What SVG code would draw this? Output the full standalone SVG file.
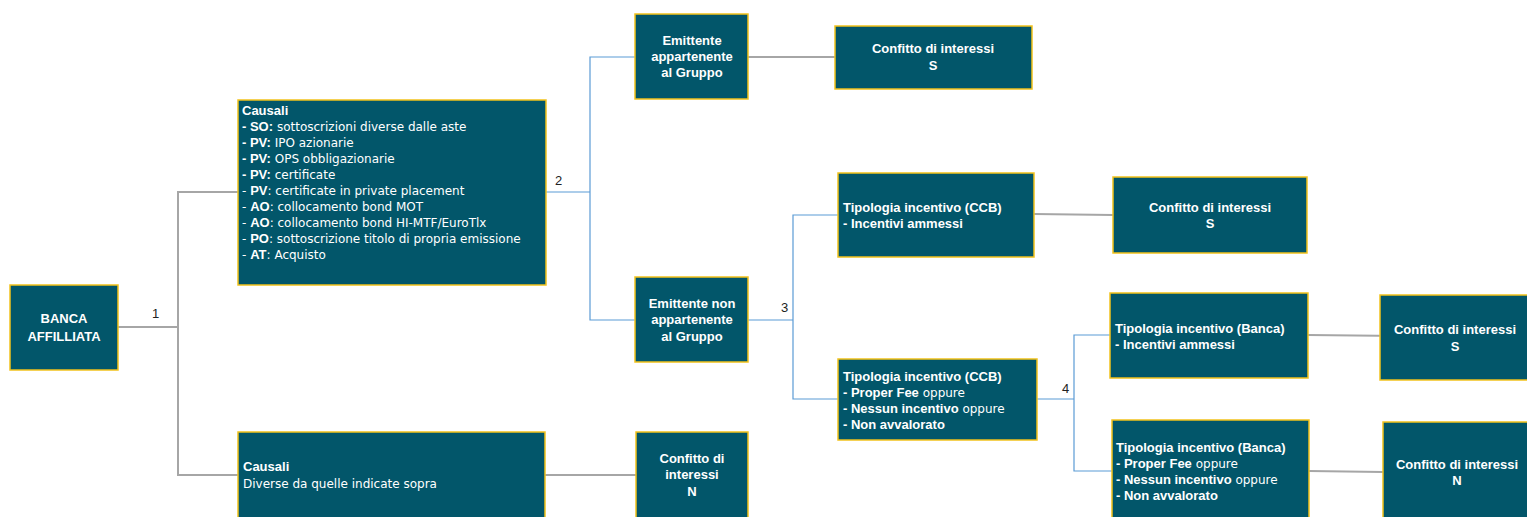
<svg xmlns="http://www.w3.org/2000/svg" width="1527" height="517" viewBox="0 0 1527 517">
<style>
.box{fill:#02566A;stroke:#F2C21B;stroke-width:1.5}
.t{font-family:"DejaVu Sans","Liberation Sans",sans-serif;font-size:12px;fill:#FFFFFF}
.c{text-anchor:middle}
.b,.c{font-family:"Liberation Sans",Arial,sans-serif;font-size:13px;font-weight:bold}
.gray{fill:none;stroke:#A6A6A6;stroke-width:2}
.blue{fill:none;stroke:#5B9BD5;stroke-width:1.2}
.lbl{font-family:"Liberation Sans",Arial,sans-serif;font-size:13px;fill:#222222}
</style>
<rect width="1527" height="517" fill="#FFFFFF"/>
<g id="connectors">
<polyline class="gray" points="118,327 178,327"/>
<polyline class="gray" points="238,192 178,192 178,475 238,475"/>
<polyline class="gray" points="545,475 636,475"/>
<polyline class="blue" points="546,192 590,192"/>
<polyline class="blue" points="635,57 590,57 590,320 635,320"/>
<polyline class="gray" points="748,57 835,57"/>
<polyline class="blue" points="748,320 793,320"/>
<polyline class="blue" points="838,215 793,215 793,399 838,399"/>
<polyline class="gray" points="1034,214 1113,215"/>
<polyline class="blue" points="1037,399 1074,399"/>
<polyline class="blue" points="1110,335 1074,335 1074,471 1112,471"/>
<polyline class="gray" points="1308,335 1402,336"/>
<polyline class="gray" points="1309,471 1383,472"/>
<text class="lbl" x="152" y="318">1</text>
<text class="lbl" x="555" y="185">2</text>
<text class="lbl" x="781" y="312">3</text>
<text class="lbl" x="1062" y="393">4</text>
</g>
<g id="banca">
<rect class="box" x="10" y="285" width="108" height="85"/>
<text class="t c" x="64" y="323">BANCA</text>
<text class="t c" x="64" y="341">AFFILLIATA</text>
</g>
<g id="causali1">
<rect class="box" x="238" y="100" width="308" height="185"/>
<text class="t" x="242" y="115"><tspan class="b">Causali</tspan></text>
<text class="t" x="242" y="131"><tspan class="b">- SO:</tspan> sottoscrizioni diverse dalle aste</text>
<text class="t" x="242" y="147"><tspan class="b">- PV:</tspan> IPO azionarie</text>
<text class="t" x="242" y="163"><tspan class="b">- PV:</tspan> OPS obbligazionarie</text>
<text class="t" x="242" y="179"><tspan class="b">- PV:</tspan> certificate</text>
<text class="t" x="242" y="195">- <tspan class="b">PV</tspan>: certificate in private placement</text>
<text class="t" x="242" y="211">- <tspan class="b">AO</tspan>: collocamento bond MOT</text>
<text class="t" x="242" y="227">- <tspan class="b">AO</tspan>: collocamento bond HI-MTF/EuroTlx</text>
<text class="t" x="242" y="243">- <tspan class="b">PO</tspan>: sottoscrizione titolo di propria emissione</text>
<text class="t" x="242" y="259">- <tspan class="b">AT</tspan>: Acquisto</text>
</g>
<g id="causali2">
<rect class="box" x="238" y="432" width="307" height="90"/>
<text class="t" x="243" y="471"><tspan class="b">Causali</tspan></text>
<text class="t" x="243" y="488">Diverse da quelle indicate sopra</text>
</g>
<g id="conflitto-n1">
<rect class="box" x="636" y="432" width="112" height="90"/>
<text class="t c" x="692" y="463">Confitto di</text>
<text class="t c" x="692" y="479">interessi</text>
<text class="t c" x="692" y="496">N</text>
</g>
<g id="emittente-gruppo">
<rect class="box" x="635" y="14" width="113" height="85"/>
<text class="t c" x="692" y="45">Emittente</text>
<text class="t c" x="692" y="61">appartenente</text>
<text class="t c" x="692" y="77">al Gruppo</text>
</g>
<g id="conflitto-s1">
<rect class="box" x="835" y="26" width="197" height="63"/>
<text class="t c" x="933" y="53">Confitto di interessi</text>
<text class="t c" x="933" y="70">S</text>
</g>
<g id="emittente-non-gruppo">
<rect class="box" x="635" y="277" width="113" height="85"/>
<text class="t c" x="692" y="308">Emittente non</text>
<text class="t c" x="692" y="324">appartenente</text>
<text class="t c" x="692" y="341">al Gruppo</text>
</g>
<g id="ccb-ammessi">
<rect class="box" x="838" y="173" width="196" height="84"/>
<text class="t b" x="843" y="212">Tipologia incentivo (CCB)</text>
<text class="t b" x="843" y="228">- Incentivi ammessi</text>
</g>
<g id="conflitto-s2">
<rect class="box" x="1113" y="177" width="194" height="76"/>
<text class="t c" x="1210" y="212">Confitto di interessi</text>
<text class="t c" x="1210" y="228">S</text>
</g>
<g id="ccb-proper">
<rect class="box" x="838" y="359" width="199" height="81"/>
<text class="t b" x="843" y="381">Tipologia incentivo (CCB)</text>
<text class="t" x="843" y="397"><tspan class="b">- Proper Fee</tspan> oppure</text>
<text class="t" x="843" y="413"><tspan class="b">- Nessun incentivo</tspan> oppure</text>
<text class="t b" x="843" y="429">- Non avvalorato</text>
</g>
<g id="banca-ammessi">
<rect class="box" x="1110" y="293" width="198" height="85"/>
<text class="t b" x="1115" y="333">Tipologia incentivo (Banca)</text>
<text class="t b" x="1115" y="349">- Incentivi ammessi</text>
</g>
<g id="conflitto-s3">
<rect class="box" x="1380" y="295" width="152" height="85"/>
<text class="t c" x="1455" y="334">Confitto di interessi</text>
<text class="t c" x="1455" y="351">S</text>
</g>
<g id="banca-proper">
<rect class="box" x="1112" y="420" width="197" height="102"/>
<text class="t b" x="1116" y="452">Tipologia incentivo (Banca)</text>
<text class="t" x="1116" y="468"><tspan class="b">- Proper Fee</tspan> oppure</text>
<text class="t" x="1116" y="484"><tspan class="b">- Nessun incentivo</tspan> oppure</text>
<text class="t b" x="1116" y="500">- Non avvalorato</text>
</g>
<g id="conflitto-n2">
<rect class="box" x="1383" y="422" width="149" height="100"/>
<text class="t c" x="1457" y="469">Confitto di interessi</text>
<text class="t c" x="1457" y="485">N</text>
</g>
</svg>
